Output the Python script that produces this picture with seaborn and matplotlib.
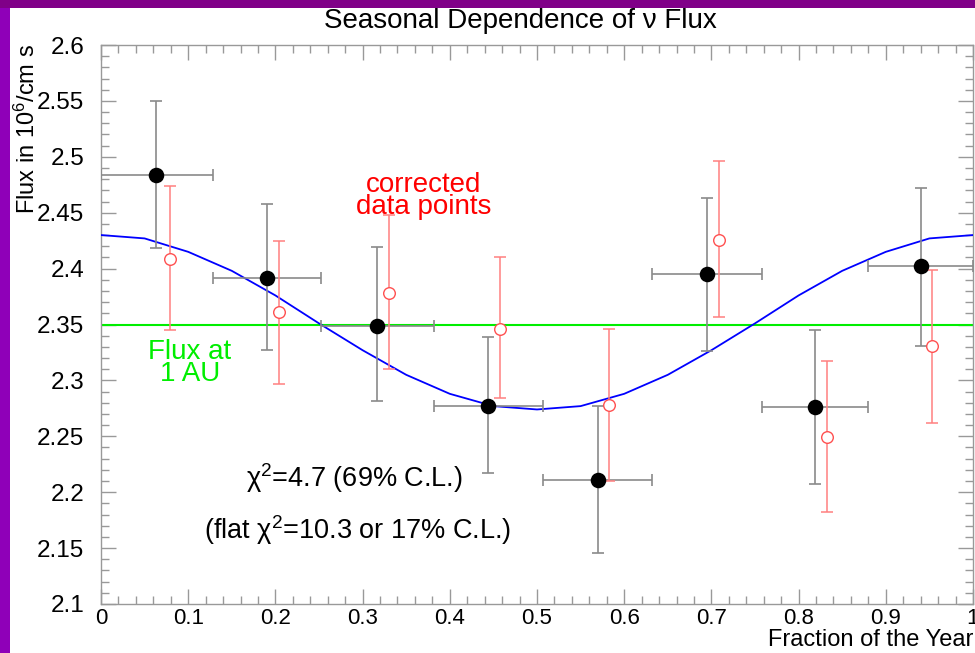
import matplotlib
matplotlib.use("Agg")
import matplotlib.pyplot as plt
import seaborn as sns
import numpy as np
import pandas as pd
from matplotlib.ticker import MultipleLocator, FixedLocator
from matplotlib.patches import Rectangle

# ---------------- data ----------------
black_x = [0.063, 0.190, 0.317, 0.444, 0.570, 0.695, 0.819, 0.940]
black_y = [2.484, 2.392, 2.349, 2.277, 2.211, 2.395, 2.276, 2.402]
black_err_up = [2.550, 2.458, 2.419, 2.339, 2.277, 2.463, 2.345, 2.472]
black_err_lo = [2.418, 2.327, 2.282, 2.217, 2.146, 2.326, 2.207, 2.331]
bin_lo = [0.000, 0.129, 0.252, 0.382, 0.507, 0.632, 0.758, 0.880]
bin_hi = [0.129, 0.252, 0.382, 0.507, 0.632, 0.758, 0.880, 1.000]

red_x = [0.079, 0.204, 0.330, 0.458, 0.583, 0.709, 0.833, 0.953]
red_y = [2.409, 2.361, 2.378, 2.346, 2.278, 2.426, 2.249, 2.331]
red_err_up = [2.474, 2.425, 2.448, 2.410, 2.346, 2.496, 2.317, 2.399]
red_err_lo = [2.345, 2.297, 2.310, 2.284, 2.210, 2.357, 2.182, 2.262]

curve_x = [0.00, 0.05, 0.10, 0.15, 0.20, 0.25, 0.30, 0.35, 0.40, 0.45, 0.50,
           0.55, 0.60, 0.65, 0.70, 0.75, 0.80, 0.85, 0.90, 0.95, 1.00]
curve_y = [2.430, 2.427, 2.415, 2.398, 2.376, 2.351, 2.327, 2.305, 2.288, 2.277, 2.274,
           2.277, 2.288, 2.305, 2.327, 2.351, 2.376, 2.398, 2.415, 2.427, 2.430]

flux_1au = 2.35

x_ticks = [0, 0.1, 0.2, 0.3, 0.4, 0.5, 0.6, 0.7, 0.8, 0.9, 1.0]
x_tick_labels = ["0", "0.1", "0.2", "0.3", "0.4", "0.5", "0.6", "0.7", "0.8", "0.9", "1"]
y_ticks = [2.1, 2.15, 2.2, 2.25, 2.3, 2.35, 2.4, 2.45, 2.5, 2.55, 2.6]
y_tick_labels = ["2.1", "2.15", "2.2", "2.25", "2.3", "2.35", "2.4", "2.45", "2.5", "2.55", "2.6"]

# ---------------- style ----------------
sns.set_theme(style="white")
plt.rcParams["font.family"] = ["Liberation Sans", "DejaVu Sans"]
plt.rcParams["mathtext.fontset"] = "custom"
plt.rcParams["mathtext.rm"] = "Liberation Sans"
plt.rcParams["mathtext.it"] = "Liberation Sans:italic"

W, H = 975, 653
fig = plt.figure(figsize=(W / 100, H / 100), dpi=100)
fig.patch.set_facecolor("white")

# purple frame (left and top)
fig.add_artist(Rectangle((0, 0), 10 / W, 1, transform=fig.transFigure,
                         facecolor="#8f00b8", edgecolor="none", zorder=0))
fig.add_artist(Rectangle((0, 1 - 8 / H), 1, 8 / H, transform=fig.transFigure,
                         facecolor="#800088", edgecolor="none", zorder=0))

ax = fig.add_axes([101 / W, 1 - 604 / H, (973 - 101) / W, (604 - 45) / H])
ax.set_facecolor("white")

df_curve = pd.DataFrame({"x": curve_x, "y": curve_y})
df_black = pd.DataFrame({"x": black_x, "y": black_y})
df_red = pd.DataFrame({"x": red_x, "y": red_y})

# flat line
ax.axhline(flux_1au, color="#00ee00", lw=1.5, zorder=2)
# fit curve
sns.lineplot(data=df_curve, x="x", y="y", ax=ax, color="#0000ff", lw=1.3, zorder=3)

# error bars
bx = np.array(black_x); by = np.array(black_y)
ax.errorbar(bx, by,
            yerr=[by - np.array(black_err_lo), np.array(black_err_up) - by],
            xerr=[bx - np.array(bin_lo), np.array(bin_hi) - bx],
            fmt="none", ecolor="#8a8a8a", elinewidth=1.2, capsize=4, capthick=1.2, zorder=4)
rx = np.array(red_x); ry = np.array(red_y)
ax.errorbar(rx, ry,
            yerr=[ry - np.array(red_err_lo), np.array(red_err_up) - ry],
            fmt="none", ecolor="#ff8080", elinewidth=1.1, capsize=4, capthick=1.1, zorder=4)

sns.scatterplot(data=df_black, x="x", y="y", ax=ax, color="black", s=125,
                edgecolor="black", linewidth=0, zorder=6)
sns.scatterplot(data=df_red, x="x", y="y", ax=ax, facecolor="white", s=70,
                edgecolor="#ff5050", linewidth=1.0, zorder=6)

ax.set_xlim(0, 1)
ax.set_ylim(2.1, 2.6)
ax.xaxis.set_major_locator(FixedLocator(x_ticks))
ax.set_xticklabels(x_tick_labels)
ax.yaxis.set_major_locator(FixedLocator(y_ticks))
ax.set_yticklabels(y_tick_labels)
ax.xaxis.set_minor_locator(MultipleLocator(0.02))
ax.yaxis.set_minor_locator(MultipleLocator(0.01))
ax.tick_params(axis="both", which="both", direction="in", top=True, right=True,
               bottom=True, left=True, color="#999999", labelcolor="black")
ax.tick_params(axis="x", labelsize=16, pad=3)
ax.tick_params(axis="y", labelsize=17.5, pad=12)
ax.tick_params(which="major", length=11, width=1)
ax.tick_params(which="minor", length=6, width=1)
for s in ax.spines.values():
    s.set_color("#999999")
    s.set_linewidth(1.0)

ax.set_xlabel("")
ax.set_ylabel("")

# titles / labels
fig.text(520 / W, 1 - 21 / H, "Seasonal Dependence of ν Flux", ha="center", va="center",
         fontsize=20, color="black")
fig.text(973 / W, 1 - 640 / H, "Fraction of the Year", ha="right", va="center",
         fontsize=17, color="black")
fig.text(27 / W, 1 - 44 / H, "Flux in 10$^{6}$/cm s", ha="center", va="top",
         rotation=90, fontsize=17, color="black")

# annotations
ax.text(0.370, 2.465, "corrected\ndata points", ha="center", va="center",
        fontsize=20, color="#ff0000", linespacing=0.8)
ax.text(0.102, 2.316, "Flux at\n1 AU", ha="center", va="center",
        fontsize=20, color="#00ee00", linespacing=0.8)
ax.text(0.291, 2.213, "χ$^{2}$=4.7 (69% C.L.)", ha="center", va="center",
        fontsize=19.5, color="black")
ax.text(0.294, 2.166, "(flat χ$^{2}$=10.3 or 17% C.L.)", ha="center", va="center",
        fontsize=19.5, color="black")

fig.savefig("out.png", dpi=100, facecolor="white")
